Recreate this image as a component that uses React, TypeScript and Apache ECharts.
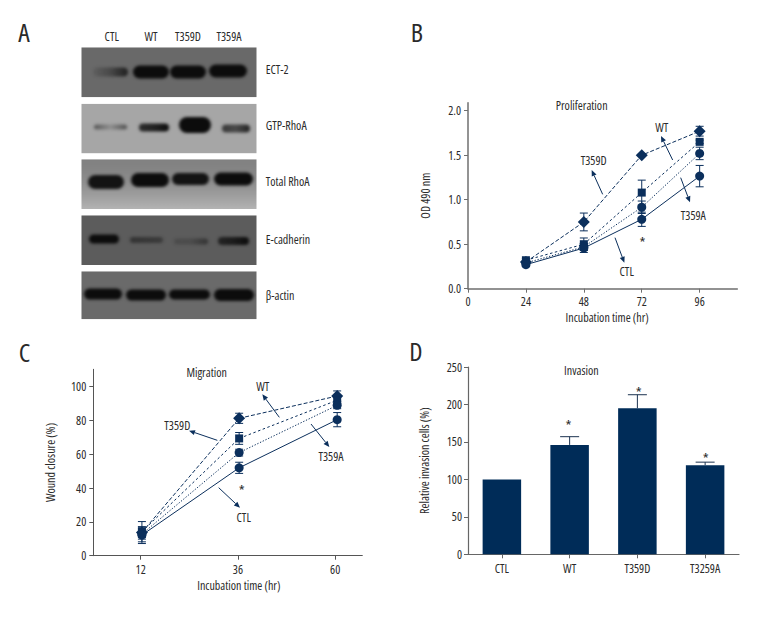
import React, { useEffect, useRef } from "react";
import * as echarts from "echarts";

const FONT = "'Open Sans', 'Roboto Condensed', sans-serif";
const NAVY = "#0b2f5c";
const BAR = "#002c58";
const TEXT = "#2a2a2a";
const FS = 12;

// Panel B
const hoursB = [24, 48, 72, 96];
const prolifD = [0.3, 0.75, 1.5, 1.77];
const prolifDErr = [0.02, 0.1, 0.01, 0.055];
const prolifWT = [0.32, 0.5, 1.08, 1.65];
const prolifWTErr = [0.02, 0.07, 0.14, 0.02];
const prolifA = [0.29, 0.47, 0.915, 1.52];
const prolifAErr = [0.02, 0.04, 0.07, 0.07];
const prolifCTL = [0.27, 0.457, 0.78, 1.265];
const prolifCTLErr = [0.02, 0.05, 0.08, 0.12];

// Panel C
const hoursC = [12.3, 36.3, 60.5];
const migD = [13.8, 81.3, 94.5];
const migDErr = [3, 3, 3];
const migWT = [14.2, 69.4, 92];
const migWTErr = [6, 3.5, 2];
const migA = [12.8, 61, 89];
const migAErr = [3, 2, 2];
const migCTL = [12.2, 52, 80.5];
const migCTLErr = [5, 3.3, 4.2];

// Panel D
const groupsD = ["CTL", "WT", "T359D", "T3259A"];
const invasion = [100, 146, 195, 119];
const invasionErr = [0, 11, 18, 4];

// Panel A
const laneLabels = ["CTL", "WT", "T359D", "T359A"];
const blotLabels = ["ECT-2", "GTP-RhoA", "Total RhoA", "E-cadherin", "β-actin"];
const blotBackground = ["#696969", "#a6a6a6", "#959595", "#5c5c5c", "#6a6a6a"];
// band darkness across each lane: [left, middle, right]
const blotDarkness = [
  [[0.1, 0.35, 0.8], [1, 1, 1], [1, 1, 1], [1, 1, 1]],
  [[0.5, 0.15, 0.55], [0.8, 0.85, 1], [1, 1, 1], [0.7, 0.6, 0.85]],
  [[0.95, 0.95, 0.95], [1, 1, 1], [0.95, 0.95, 0.95], [1, 1, 1]],
  [[1, 1, 1], [0.5, 0.45, 0.4], [0.2, 0.2, 0.5], [0.7, 0.8, 1]],
  [[1, 1, 1], [1, 1, 1], [1, 1, 1], [1, 1, 1]],
];

// blot drawing geometry [panel top, panel height], then lane [left, width, centre y, height]
const blotFrames = [[47.3, 50], [103.7, 49.7], [159.3, 49.7], [215.3, 49.7], [271.3, 48]];
const blotBands = [
  [[93, 35, 72, 9], [133, 36, 72, 13], [170, 36, 72, 13], [209, 38, 71, 13]],
  [[94, 33, 127, 5], [139, 30, 127.5, 8], [179, 32, 125, 16], [222, 28, 128.5, 8]],
  [[88, 36, 182, 14], [131, 38, 180, 14], [172, 37, 179, 12], [214, 39, 179, 13]],
  [[89, 30, 239, 9], [130, 33, 240, 6], [174, 34, 241.5, 6], [218, 31, 241, 8]],
  [[84, 38, 294, 11], [126, 40, 295, 11], [169, 41, 294.5, 10], [214, 40, 295, 12]],
];

function makeBlotImage(): string {
  const c = document.createElement("canvas");
  c.width = 176;
  c.height = 274;
  const ctx = c.getContext("2d") as CanvasRenderingContext2D;
  const ox = 81.5;
  const oy = 46;
  blotFrames.forEach(([top, h], i) => {
    ctx.save();
    ctx.beginPath();
    ctx.rect(0, top - oy, 175, h);
    ctx.clip();
    ctx.fillStyle = blotBackground[i];
    ctx.fillRect(0, top - oy, 175, h);
    if (i === 2) {
      const g = ctx.createLinearGradient(0, top - oy, 0, top - oy + h);
      g.addColorStop(0, "rgba(70,70,70,0.25)");
      g.addColorStop(1, "rgba(205,205,205,0.55)");
      ctx.fillStyle = g;
      ctx.fillRect(0, top - oy, 175, h);
    }
    ctx.filter = "blur(1.5px)";
    blotBands[i].forEach(([l, w, cy, bh], k) => {
      const [a, b, d] = blotDarkness[i][k];
      const g = ctx.createLinearGradient(l - ox, 0, l - ox + w, 0);
      g.addColorStop(0, `rgba(12,12,12,${a})`);
      g.addColorStop(0.5, `rgba(12,12,12,${b})`);
      g.addColorStop(1, `rgba(12,12,12,${d})`);
      ctx.fillStyle = g;
      ctx.beginPath();
      ctx.roundRect(l - ox, cy - oy - bh / 2, w, bh, bh / 2);
      ctx.fill();
    });
    ctx.restore();
  });
  return c.toDataURL("image/png");
}

const txt = (x: number, y: number, text: string, fontSize = FS, align = "center") => ({
  type: "text",
  x,
  y,
  silent: true,
  style: { text, fontSize, fontFamily: FONT, fill: TEXT, align, verticalAlign: "middle" },
});

const arrow = (x1: number, y1: number, x2: number, y2: number) => {
  const a = Math.atan2(y2 - y1, x2 - x1);
  const len = 6;
  const half = 2.6;
  const bx = x2 - len * Math.cos(a);
  const by = y2 - len * Math.sin(a);
  const nx = -Math.sin(a) * half;
  const ny = Math.cos(a) * half;
  return [
    { type: "line", silent: true, shape: { x1, y1, x2: bx, y2: by }, style: { stroke: NAVY, lineWidth: 1 } },
    {
      type: "polygon",
      silent: true,
      shape: { points: [[x2, y2], [bx + nx, by + ny], [bx - nx, by - ny]] },
      style: { fill: NAVY },
    },
  ];
};

const axisBase = (color: string, width: number) => ({
  axisLine: { show: true, onZero: false, lineStyle: { color, width } },
  axisTick: { show: true, length: 4, lineStyle: { color, width: 1 } },
  axisLabel: { fontFamily: FONT, fontSize: FS, color: TEXT, margin: 6 },
  splitLine: { show: false },
  nameLocation: "middle" as const,
  nameTextStyle: { fontFamily: FONT, fontSize: FS, color: TEXT },
});

const errBars = (x: number, y: number, xs: number[], ys: number[], errs: number[], color = NAVY, capPx = 4, upperOnly = false, z = 3) => ({
  type: "custom",
  xAxisIndex: x,
  yAxisIndex: y,
  z,
  silent: true,
  clip: false,
  data: xs.map((v, i) => [v, ys[i], errs[i]]),
  encode: { x: 0, y: 1 },
  renderItem: (_: any, api: any) => {
    const vx = api.value(0);
    const vy = api.value(1);
    const e = api.value(2);
    const top = api.coord([vx, vy + e]);
    const bot = api.coord([vx, upperOnly ? vy : vy - e]);
    const st = { stroke: color, lineWidth: 1, fill: "none" };
    const lines: any[] = [
      { type: "line", shape: { x1: top[0], y1: top[1], x2: bot[0], y2: bot[1] }, style: st },
      { type: "line", shape: { x1: top[0] - capPx, y1: top[1], x2: top[0] + capPx, y2: top[1] }, style: st },
    ];
    if (!upperOnly) {
      lines.push({ type: "line", shape: { x1: bot[0] - capPx, y1: bot[1], x2: bot[0] + capPx, y2: bot[1] }, style: st });
    }
    return { type: "group", children: lines };
  },
});

const lineSeries = (x: number, y: number, xs: number[], ys: number[], symbol: string, symbolSize: number, lineType: any) => ({
  type: "line",
  xAxisIndex: x,
  yAxisIndex: y,
  data: xs.map((v, i) => [v, ys[i]]),
  symbol,
  symbolSize,
  z: 4,
  silent: true,
  itemStyle: { color: NAVY },
  lineStyle: { color: NAVY, width: 1, type: lineType },
});

const LONG = [4, 2];
const SHORT = [2.5, 2.5];
const DOT = [1.3, 1.7];

export default function App() {
  const ref = useRef<HTMLDivElement>(null);
  useEffect(() => {
    if (!ref.current) return;
    const chart = echarts.init(ref.current, undefined, { renderer: "svg" });
    const B = (x: number, y: number) => [400 + x / 3, 10 + y / 3];
    const C = (x: number, y: number) => [10 + x / 3, 330 + y / 3];
    const D = (x: number, y: number) => [400 + x / 3, 330 + y / 3];
    const tB = (x: number, y: number, s: string, size = FS) => txt(B(x, y)[0], B(x, y)[1], s, size);
    const tC = (x: number, y: number, s: string, size = FS) => txt(C(x, y)[0], C(x, y)[1], s, size);
    const tD = (x: number, y: number, s: string, size = FS) => txt(D(x, y)[0], D(x, y)[1], s, size);
    const aB = (a: number, b: number, c: number, d: number) => arrow(...(B(a, b) as [number, number]), ...(B(c, d) as [number, number]));
    const aC = (a: number, b: number, c: number, d: number) => arrow(...(C(a, b) as [number, number]), ...(C(c, d) as [number, number]));

    const laneX = [111.7, 151, 188, 229];
    const blotLabelY = [69, 125.7, 181, 239, 295];

    const graphic: any[] = [
      { type: "image", silent: true, x: 81.5, y: 46, style: { image: makeBlotImage(), x: 0, y: 0, width: 176, height: 274 } },
      txt(24, 32, "A", 26),
      txt(417, 32, "B", 26),
      txt(24.5, 352, "C", 26),
      txt(416, 351, "D", 26),
      ...laneLabels.map((s, i) => txt(laneX[i], 36, s)),
      ...blotLabels.map((s, i) => txt(265.7, blotLabelY[i], s, FS, "left")),
      tB(545, 286, "Proliferation"),
      tB(581, 450, "T359D"),
      tB(785, 352, "WT"),
      tB(880, 616, "T359A"),
      tB(680, 785, "CTL"),
      tB(727, 695, "*", 15),
      ...aB(608, 553, 575, 480),
      ...aB(818, 450, 783, 378),
      ...aB(842, 503, 870, 577),
      ...aB(645, 683, 673, 758),
      tC(590, 127, "Migration"),
      tC(502, 285, "T359D"),
      tC(758, 168, "WT"),
      tC(963, 380, "T359A"),
      tC(701, 563, "CTL"),
      tC(695, 480, "*", 15),
      ...aC(622, 331, 537, 302),
      ...aC(808, 262, 757, 193),
      ...aC(903, 282, 958, 351),
      ...aC(626, 473, 690, 533),
      tD(544, 121, "Invasion"),
      tD(505, 285, "*", 15),
      tD(716, 185, "*", 15),
      tD(917, 385, "*", 15),
    ];

    chart.setOption({
      animation: false,
      backgroundColor: "#ffffff",
      textStyle: { fontFamily: FONT },
      grid: [
        { left: 468, top: 102.7, width: 269.3, height: 186 },
        { left: 93.3, top: 369.3, width: 269, height: 186.4 },
        { left: 468, top: 367, width: 271, height: 187.3 },
      ],
      xAxis: [
        {
          ...axisBase("#6f6f6f", 1.5),
          type: "value",
          gridIndex: 0,
          min: 0,
          max: 111.6,
          name: "Incubation time (hr)",
          nameGap: 23,
          nameTextStyle: { fontFamily: FONT, fontSize: FS, color: TEXT, padding: [0, 0, 0, 9] },
          axisTick: { show: true, length: 4, customValues: [0, ...hoursB], lineStyle: { color: "#6f6f6f" } },
          axisLabel: { fontFamily: FONT, fontSize: FS, color: TEXT, margin: 7, customValues: [0, ...hoursB] },
        },
        {
          ...axisBase("#555555", 1),
          type: "value",
          gridIndex: 1,
          min: 0.3,
          max: 66.7,
          name: "Incubation time (hr)",
          nameGap: 24,
          nameTextStyle: { fontFamily: FONT, fontSize: FS, color: TEXT, padding: [0, 0, 0, 22] },
          axisTick: { show: true, length: 4, customValues: [12, 36, 60], lineStyle: { color: "#555555" } },
          axisLabel: { fontFamily: FONT, fontSize: FS, color: TEXT, margin: 8, customValues: [12, 36, 60] },
        },
        {
          ...axisBase("#666666", 1.2),
          type: "category",
          gridIndex: 2,
          data: groupsD,
          axisTick: { show: true, length: 4, alignWithLabel: true, lineStyle: { color: "#666666" } },
          axisLabel: { fontFamily: FONT, fontSize: FS, color: TEXT, margin: 8, interval: 0 },
        },
      ],
      yAxis: [
        {
          ...axisBase("#6f6f6f", 1.5),
          type: "value",
          gridIndex: 0,
          min: 0,
          max: 2.09,
          name: "OD 490 nm",
          nameGap: 37,
          axisTick: { show: true, length: 4, customValues: [0, 0.5, 1, 1.5, 2], lineStyle: { color: "#6f6f6f" } },
          axisLabel: {
            fontFamily: FONT,
            fontSize: FS,
            color: TEXT,
            margin: 7,
            customValues: [0, 0.5, 1, 1.5, 2],
            formatter: (v: number) => v.toFixed(1),
          },
        },
        {
          ...axisBase("#555555", 1),
          type: "value",
          gridIndex: 1,
          min: 0,
          max: 110.3,
          name: "Wound closure (%)",
          nameGap: 37,
          axisTick: { show: true, length: 4, customValues: [0, 20, 40, 60, 80, 100], lineStyle: { color: "#555555" } },
          axisLabel: { fontFamily: FONT, fontSize: FS, color: TEXT, margin: 7, customValues: [0, 20, 40, 60, 80, 100] },
        },
        {
          ...axisBase("#666666", 1.2),
          type: "value",
          gridIndex: 2,
          min: 0,
          max: 250,
          interval: 50,
          name: "Relative invasion cells (%)",
          nameGap: 38,
        },
      ],
      series: [
        errBars(0, 0, hoursB, prolifD, prolifDErr),
        errBars(0, 0, hoursB, prolifWT, prolifWTErr),
        errBars(0, 0, hoursB, prolifA, prolifAErr),
        errBars(0, 0, hoursB, prolifCTL, prolifCTLErr),
        lineSeries(0, 0, hoursB, prolifD, "diamond", 12, LONG),
        lineSeries(0, 0, hoursB, prolifWT, "rect", 8, SHORT),
        lineSeries(0, 0, hoursB, prolifA, "circle", 9, DOT),
        lineSeries(0, 0, hoursB, prolifCTL, "circle", 9, "solid"),
        errBars(1, 1, hoursC, migD, migDErr),
        errBars(1, 1, hoursC, migWT, migWTErr),
        errBars(1, 1, hoursC, migA, migAErr),
        errBars(1, 1, hoursC, migCTL, migCTLErr),
        lineSeries(1, 1, hoursC, migD, "diamond", 12, LONG),
        lineSeries(1, 1, hoursC, migWT, "rect", 8, SHORT),
        lineSeries(1, 1, hoursC, migA, "circle", 9, DOT),
        lineSeries(1, 1, hoursC, migCTL, "circle", 9, "solid"),
        {
          type: "custom",
          xAxisIndex: 2,
          yAxisIndex: 2,
          z: 1,
          silent: true,
          data: invasion.map((v, i) => [i, v, invasionErr[i]]),
          encode: { x: 0, y: 1 },
          renderItem: (_: any, api: any) => {
            const e = api.value(2);
            if (!e) return { type: "group", children: [] };
            const top = api.coord([api.value(0), api.value(1) + e]);
            const bot = api.coord([api.value(0), api.value(1)]);
            const st = { stroke: "#1c3350", lineWidth: 1, fill: "none" };
            return {
              type: "group",
              children: [
                { type: "line", shape: { x1: top[0], y1: top[1], x2: bot[0], y2: bot[1] }, style: st },
                { type: "line", shape: { x1: top[0] - 9.5, y1: top[1], x2: top[0] + 9.5, y2: top[1] }, style: st },
              ],
            };
          },
        },
        {
          type: "bar",
          xAxisIndex: 2,
          yAxisIndex: 2,
          data: invasion,
          barWidth: 38.5,
          z: 2,
          silent: true,
          itemStyle: { color: BAR },
        },
      ],
      graphic,
    });
    return () => chart.dispose();
  }, []);
  return (
    <>
      <style>{"svg text { font-stretch: 75% !important; }"}</style>
      <div
        ref={ref}
        style={{ position: "absolute", left: 0, top: 0, width: 780, height: 624, background: "#fff" }}
      />
    </>
  );
}
